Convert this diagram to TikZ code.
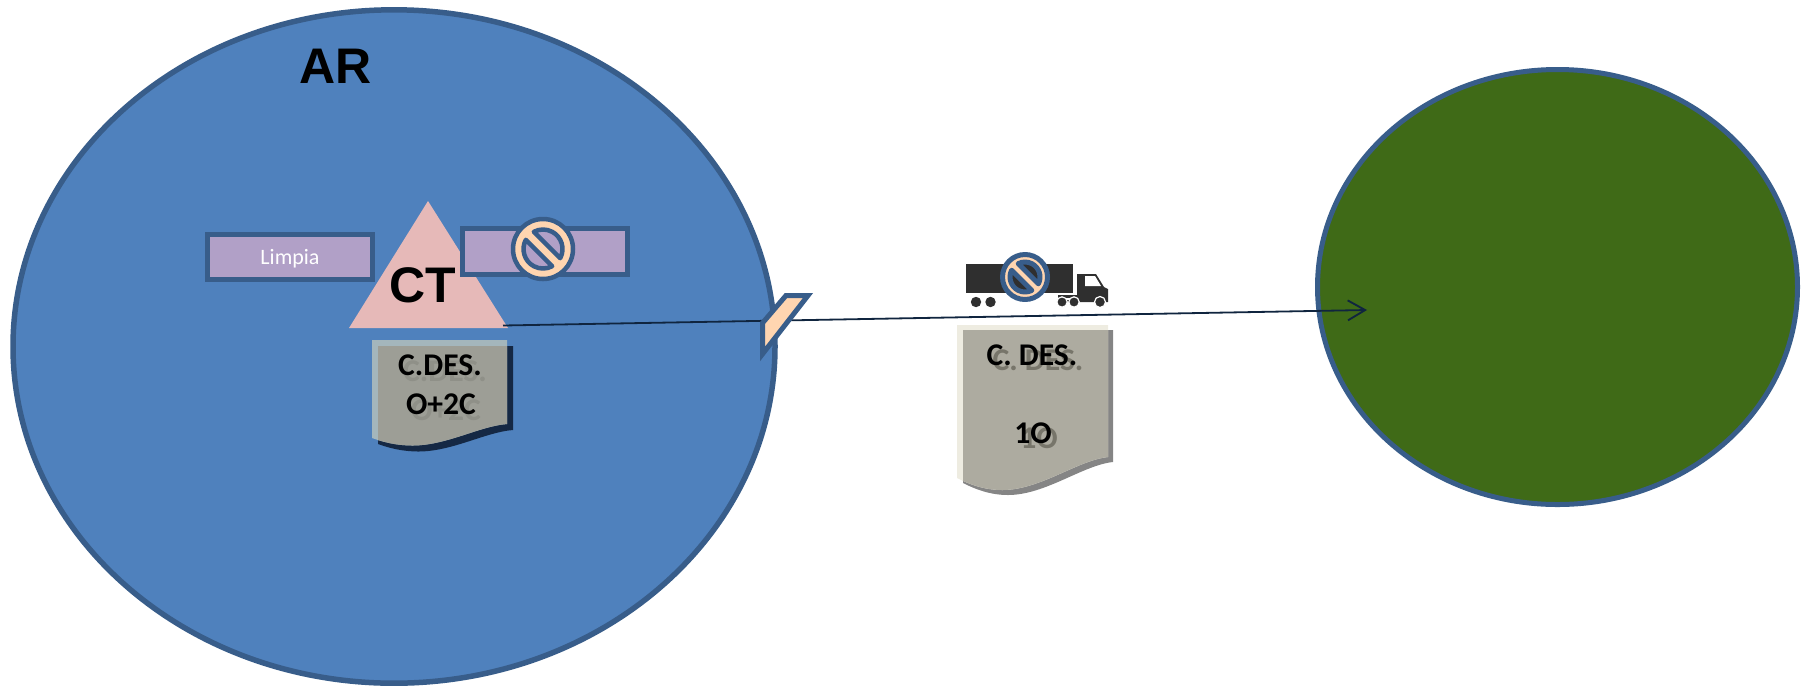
\documentclass[tikz,border=0pt]{standalone}
\usepackage{fontspec}
\setmainfont{Liberation Sans}
\newfontfamily\carl{Carlito}
\usetikzlibrary{arrows.meta}
\definecolor{bluefill}{HTML}{4F81BD}
\definecolor{bluestroke}{HTML}{385D8A}
\definecolor{greenfill}{HTML}{3F6A17}
\definecolor{pinkfill}{HTML}{E6B9B8}
\definecolor{purplefill}{HTML}{B1A0C7}
\definecolor{peach}{HTML}{FFD5B0}
\definecolor{navy}{HTML}{10253F}
\definecolor{trk}{HTML}{2F2F2F}
\definecolor{docAlight}{HTML}{A4B6BC}
\definecolor{docAgrey}{HTML}{9D9E96}
\definecolor{docAshadow}{HTML}{152844}
\definecolor{docAtextsh}{HTML}{8F9088}
\definecolor{docBlight}{HTML}{EEECE1}
\definecolor{docBgrey}{HTML}{ADABA0}
\definecolor{docBshadow}{HTML}{858585}
\definecolor{docBtextsh}{HTML}{77756A}
\tikzset{
  px/.style={line width=#1*0.75pt},
  rectbox/.style={draw=bluestroke,fill=purplefill,px=5},
  bigtitle/.style={font=\fontsize{37.5}{40}\selectfont\bfseries,inner sep=0pt,text=black},
  doctext/.style={font=\carl\fontsize{23.7}{26}\selectfont\bfseries,inner sep=0pt,text=black},
  wheel/.style={fill=trk,draw=white,px=1.2},
}
% cx cy R r d lw thetahalf
\newcommand{\nosymbol}[7]{%
  \begin{scope}[shift={(#1,#2)},x=0.75pt,y=0.75pt]
    \draw[draw=bluestroke,fill=peach,even odd rule,px=#6,line join=round]
      (0,0) circle (#3)
      (45-#7:#4) arc[start angle=45-#7,end angle=45+#7,radius=#4] -- cycle
      (225-#7:#4) arc[start angle=225-#7,end angle=225+#7,radius=#4] -- cycle;
  \end{scope}}
% x0 y0 width leftheight rightheight dip ; document outline with wave
\newcommand{\docpath}[6]{%
  (#1,#2) -- (#1+#3,#2) -- (#1+#3,#2+#5)
  .. controls (#1+0.8*#3,#2+#5+0.02*#4) and (#1+0.55*#3,#2+#4+#6) .. (#1+0.3*#3,#2+#4+#6)
  .. controls (#1+0.18*#3,#2+#4+#6) and (#1+0.08*#3,#2+#4+0.04*#4) .. (#1,#2+#4) -- cycle}
\begin{document}
\begin{tikzpicture}[x=0.75pt,y=-0.75pt]
\useasboundingbox (0,0) rectangle (1808,687);
% big circles
\draw[draw=bluestroke,fill=bluefill,px=5.5] (394,346.5) ellipse[x radius=381,y radius=336.7];
\draw[draw=bluestroke,fill=greenfill,px=5] (1557.5,287) ellipse[x radius=240,y radius=217.5];
\node[bigtitle] (ar) at (336,66) {AR};
% triangle
\fill[pinkfill] (428,201) -- (508,328) -- (349,328) -- cycle;
% right rect
\draw[rectbox] (462.5,228.5) rectangle (627.5,274.5);
\nosymbol{543}{249}{30}{19.5}{5.75}{4.5}{73}
\node[bigtitle] (ct) at (423,285) {CT};
% Limpia
\draw[rectbox] (207.5,234.5) rectangle (372.5,279.5);
\node[inner sep=0pt,font=\carl\fontsize{16.5}{18}\selectfont,text=white] (limpia) at (290,258.5) {Limpia};
% doc A
\fill[docAshadow] \docpath{378}{346}{135}{98}{84}{7.5};
\fill[docAlight] \docpath{372}{340}{135}{98}{84}{7.5};
\begin{scope}
  \clip \docpath{372}{340}{135}{98}{84}{7.5};
  \fill[docAgrey] \docpath{378}{346}{135}{98}{84}{7.5};
\end{scope}
\node[doctext,text=docAtextsh] (dasa) at (445,371) {C.DES.};
\node[doctext,text=docAtextsh] (dasb) at (446,410) {O+2C};
\node[doctext] (daa) at (440,365) {C.DES.};
\node[doctext] (dab) at (441,404) {O+2C};
% doc B
\fill[docBshadow] \docpath{963}{330}{150}{153}{132}{12};
\fill[docBlight] \docpath{957}{325}{151}{153}{132}{12};
\begin{scope}
  \clip \docpath{957}{325}{151}{153}{132}{12};
  \fill[docBgrey] \docpath{963}{330}{150}{153}{132}{12};
\end{scope}
\node[doctext,text=docBtextsh] (dbsa) at (1038,360) {C. DES.};
\node[doctext,text=docBtextsh] (dbsb) at (1039,438) {1O};
\node[doctext] (dba) at (1032,355) {C. DES.};
\node[doctext] (dbb) at (1033,433) {1O};
% truck
\fill[trk] (966,264) rectangle (1073,293);
\fill[trk] (1058,295) -- (1077,295) -- (1077,274) -- (1096,274) -- (1104,287) -- (1108,289) -- (1108,302) -- (1058,302) -- cycle;
\fill[white] (1085,276) -- (1095,276) -- (1101,286) -- (1085,286) -- cycle;
\fill[white] (1059,298) rectangle (1078,300);
\fill[trk] (976,302) circle (5.2);
\fill[trk] (990.5,302) circle (5.2);
\draw[wheel] (1062,302) circle (5.2);
\draw[wheel] (1074,302) circle (5.2);
\draw[wheel] (1100,302) circle (5.5);
\nosymbol{1025}{277}{22.5}{15}{4}{5}{72}
% connector
\coordinate (cstart) at (503,325.5);
\coordinate (cend) at (1367,310);
\draw[navy,px=1.8,-{Straight Barb[length=13pt,width=15pt,line width=1.4pt]}] (cstart) -- (cend);
% tag
\draw[bluestroke,fill=peach,px=5,miter limit=10] (786,295.5) -- (808,295.5) -- (762.5,354) -- (762.5,323) -- cycle;
\end{tikzpicture}
\end{document}
